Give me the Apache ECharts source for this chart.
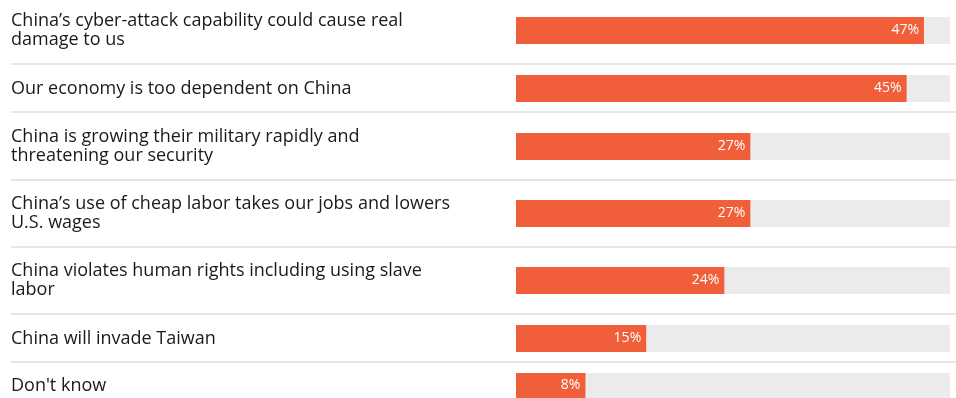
<!DOCTYPE html>
<html>
<head>
<meta charset="utf-8">
<script src="https://cdn.jsdelivr.net/npm/echarts@6/dist/echarts.min.js"></script>
<style>html,body{margin:0;padding:0;background:#fff}#c{width:956px;height:398px}</style>
</head>
<body>
<div id="c"></div>
<script>
const categories = [
  "China\u2019s cyber-attack capability could cause real\ndamage to us",
  "Our economy is too dependent on China",
  "China is growing their military rapidly and\nthreatening our security",
  "China\u2019s use of cheap labor takes our jobs and lowers\nU.S. wages",
  "China violates human rights including using slave\nlabor",
  "China will invade Taiwan",
  "Don't know"
];
const values = [47, 45, 27, 27, 24, 15, 8];
const axisMax = 50;

// layout: top of each bar track (px) and separators between rows
const barTops = [17, 75, 133, 200, 267, 325, 373];
const separators = [64, 112, 180, 247, 314, 362];
const BAR_H = 27;
const FONT = '"Open Sans", sans-serif';

const chart = echarts.init(document.getElementById('c'), null, {renderer: 'canvas'});
const grids = [], xAxes = [], yAxes = [], series = [];
categories.forEach((cat, i) => {
  grids.push({left: 516, right: 6, top: barTops[i], height: BAR_H, containLabel: false});
  xAxes.push({type: 'value', gridIndex: i, min: 0, max: axisMax, show: false});
  yAxes.push({
    type: 'category', gridIndex: i, data: [cat],
    axisLine: {show: false}, axisTick: {show: false}, splitLine: {show: false},
    axisLabel: {align: 'left', margin: 505, color: '#1a1a1a', fontSize: 18, lineHeight: 19, fontFamily: FONT}
  });
  series.push({
    type: 'bar', xAxisIndex: i, yAxisIndex: i, data: [values[i]],
    barWidth: '100%', showBackground: true,
    backgroundStyle: {color: '#ebebeb'},
    itemStyle: {color: '#f15f3a'},
    label: {show: true, position: 'insideRight', distance: 5, formatter: '{c}%', color: '#fff', fontSize: 14, fontFamily: FONT},
    silent: true, animation: false
  });
});

const graphic = separators.map(y => ({
  type: 'line', shape: {x1: 11, y1: y, x2: 956, y2: y},
  style: {stroke: '#e6e6e6', lineWidth: 2}, silent: true
}));

chart.setOption({
  animation: false,
  grid: grids, xAxis: xAxes, yAxis: yAxes, series: series, graphic: graphic
});
</script>
</body>
</html>
